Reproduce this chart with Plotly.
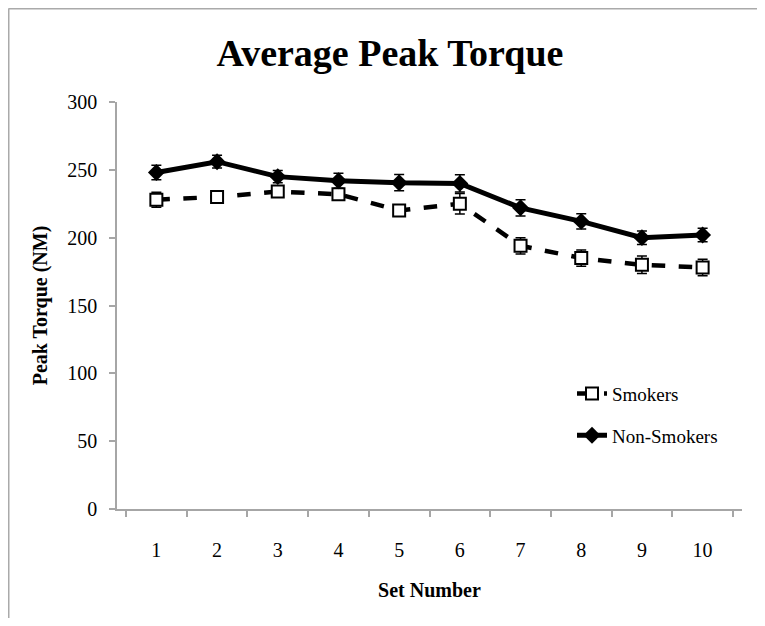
import plotly.graph_objects as go

# -------------------------------------------------
# Data
# -------------------------------------------------
set_numbers = ["1", "2", "3", "4", "5", "6", "7", "8", "9", "10"]

smokers = [228, 230, 234, 232, 220, 225, 194, 185, 180, 178]
smokers_err = [5.5, 3, 3, 3, 3, 7.5, 6, 6, 6.4, 6]

non_smokers = [248, 256, 245, 242, 240.5, 240, 222, 212, 200, 202]
non_smokers_err = [5.4, 4.7, 4.5, 5.5, 6, 6.4, 6, 5.7, 5, 5]

y_ticks = [0, 50, 100, 150, 200, 250, 300]

FONT = "Liberation Serif"

fig = go.Figure()

# -------------------------------------------------
# Smokers: dashed line, open squares
# -------------------------------------------------
fig.add_trace(
    go.Scatter(
        x=set_numbers,
        y=smokers,
        name="Smokers",
        mode="lines+markers",
        line=dict(color="black", width=4.5, dash="dash"),
        marker=dict(
            symbol="square",
            size=12,
            color="white",
            line=dict(color="black", width=2),
        ),
        error_y=dict(
            type="data",
            array=smokers_err,
            color="black",
            thickness=1.5,
            width=5,
        ),
        legendgroup="a",
    )
)

# -------------------------------------------------
# Non-smokers: solid line, filled diamonds
# -------------------------------------------------
fig.add_trace(
    go.Scatter(
        x=set_numbers,
        y=non_smokers,
        name="Non-Smokers",
        mode="lines+markers",
        line=dict(color="black", width=5),
        marker=dict(symbol="diamond", size=13, color="black"),
        error_y=dict(
            type="data",
            array=non_smokers_err,
            color="black",
            thickness=1.5,
            width=5,
        ),
        legendgroup="b",
    )
)

# -------------------------------------------------
# Axes
# -------------------------------------------------
fig.update_xaxes(
    type="category",
    tickson="boundaries",
    ticks="outside",
    ticklen=6,
    tickcolor="#a6a6a6",
    tickwidth=1.5,
    showline=True,
    linecolor="#a6a6a6",
    linewidth=1.5,
    showgrid=False,
    zeroline=False,
    ticklabelstandoff=22,
    tickfont=dict(family=FONT, size=20, color="black"),
    title=dict(
        text="<b>Set Number</b>",
        font=dict(family=FONT, size=20, color="black"),
        standoff=23,
    ),
)

fig.update_yaxes(
    range=[0, 300],
    tickvals=y_ticks,
    ticks="outside",
    ticklen=6,
    tickcolor="#a6a6a6",
    tickwidth=1.5,
    showline=True,
    linecolor="#a6a6a6",
    linewidth=1.5,
    showgrid=False,
    zeroline=False,
    ticklabelstandoff=8,
    tickfont=dict(family=FONT, size=20, color="black"),
    title=dict(
        text="<b>Peak Torque (NM)</b>",
        font=dict(family=FONT, size=20, color="black"),
        standoff=14,
    ),
)

# -------------------------------------------------
# Layout (page body adds an 8px offset, so the figure is 16px smaller)
# -------------------------------------------------
fig.update_layout(
    width=749,
    height=610,
    plot_bgcolor="white",
    paper_bgcolor="white",
    margin=dict(l=109, r=15, t=94, b=109),
    title=dict(
        text="<b>Average Peak Torque</b>",
        font=dict(family=FONT, size=38, color="black"),
        x=0.51,
        xanchor="center",
        y=0.927,
        yanchor="middle",
    ),
    legend=dict(
        x=0.728,
        y=0.33,
        xanchor="left",
        yanchor="top",
        traceorder="grouped",
        tracegroupgap=14,
        font=dict(family=FONT, size=19, color="black"),
        bgcolor="rgba(0,0,0,0)",
    ),
    showlegend=True,
)

# chart frame (top and left edges visible in the reference)
fig.add_shape(
    type="line", xref="paper", yref="paper",
    x0=-0.1736, x1=1.1, y0=1.2297, y1=1.2297,
    line=dict(color="#aaaaaa", width=2),
)
fig.add_shape(
    type="line", xref="paper", yref="paper",
    x0=-0.1736, x1=-0.1736, y0=1.2297, y1=-0.3,
    line=dict(color="#aaaaaa", width=2),
)

fig.write_html("out.html")
